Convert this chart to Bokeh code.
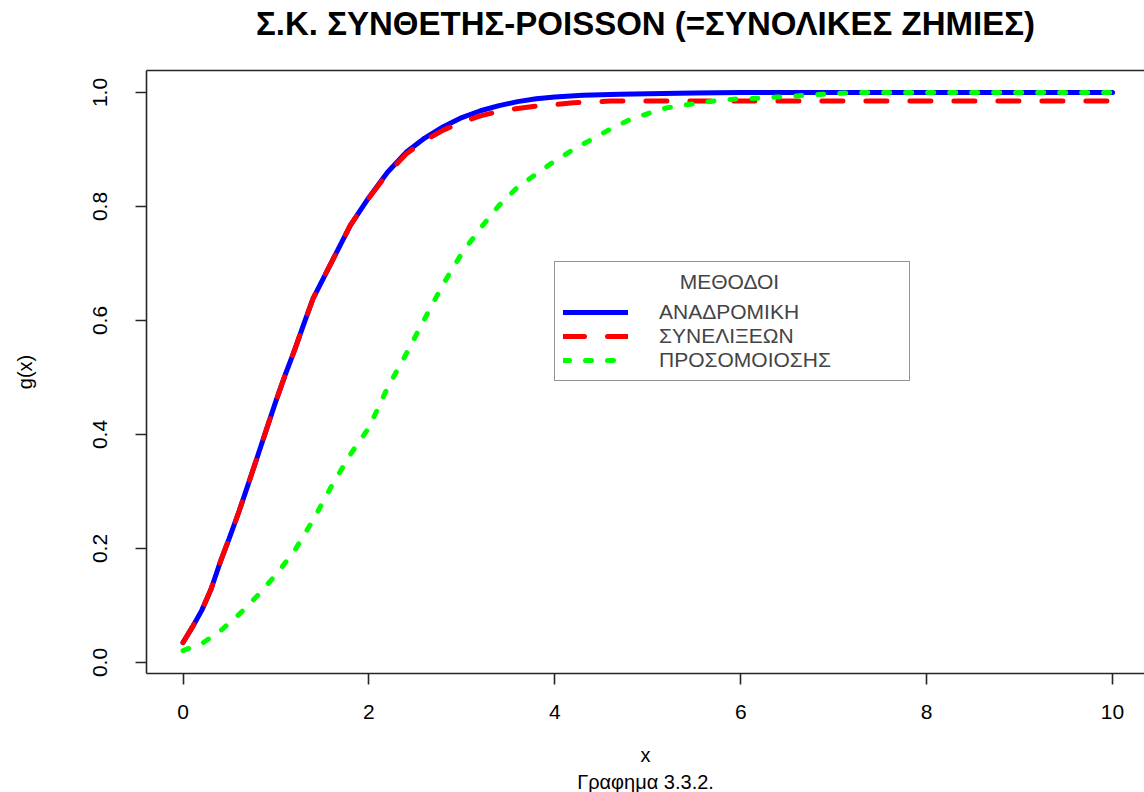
from bokeh.plotting import figure
from bokeh.models import Range1d, FixedTicker, LinearAxis, Legend, LegendItem, Title
from bokeh.embed import file_html
from bokeh.resources import INLINE

# ---------------- data ----------------
x_anadromiki = [0, 0.1, 0.2, 0.3, 0.4, 0.5, 0.6, 0.7, 0.8, 0.9, 1.0, 1.1, 1.2, 1.3, 1.4, 1.5,
                1.6, 1.8, 2.0, 2.2, 2.4, 2.6, 2.8, 3.0, 3.2, 3.4, 3.6, 3.8, 4.0, 4.3, 4.7,
                5.0, 5.5, 6.0, 7.0, 8.0, 9.0, 10.0]
g_anadromiki = [0.035, 0.062, 0.091, 0.128, 0.176, 0.219, 0.264, 0.312, 0.361, 0.410, 0.459,
                0.505, 0.548, 0.594, 0.639, 0.671, 0.703, 0.767, 0.816, 0.860, 0.895, 0.920,
                0.940, 0.956, 0.968, 0.977, 0.984, 0.989, 0.992, 0.995, 0.997, 0.998, 0.999,
                1.0, 1.0, 1.0, 1.0, 1.0]

x_syneliksewn = [0, 0.1, 0.2, 0.3, 0.4, 0.5, 0.6, 0.7, 0.8, 0.9, 1.0, 1.1, 1.2, 1.3, 1.4, 1.5,
                 1.6, 1.8, 2.0, 2.2, 2.4, 2.6, 2.8, 3.0, 3.2, 3.4, 3.6, 3.8, 4.0, 4.2, 4.4,
                 4.6, 5.0, 6.0, 7.0, 8.0, 9.0, 10.0]
g_syneliksewn = [0.035, 0.062, 0.091, 0.128, 0.176, 0.219, 0.264, 0.312, 0.361, 0.410, 0.459,
                 0.505, 0.548, 0.594, 0.639, 0.671, 0.703, 0.767, 0.815, 0.858, 0.892, 0.916,
                 0.934, 0.948, 0.959, 0.967, 0.972, 0.976, 0.979, 0.982, 0.983, 0.985, 0.985,
                 0.985, 0.985, 0.985, 0.985, 0.985]

x_prosomoiosis = [0, 0.2, 0.4, 0.6, 0.8, 1.0, 1.2, 1.4, 1.6, 1.8, 2.0, 2.2, 2.4, 2.6, 2.8, 3.0,
                  3.2, 3.4, 3.6, 3.8, 4.0, 4.2, 4.4, 4.6, 4.8, 5.0, 5.2, 5.4, 5.6, 5.8, 6.0,
                  6.2, 6.4, 6.6, 6.8, 7.0, 7.2, 8.0, 9.0, 10.0]
g_prosomoiosis = [0.021, 0.033, 0.055, 0.084, 0.117, 0.154, 0.196, 0.250, 0.310, 0.365, 0.412,
                  0.482, 0.541, 0.603, 0.664, 0.718, 0.762, 0.802, 0.834, 0.857, 0.880, 0.900,
                  0.918, 0.936, 0.952, 0.963, 0.973, 0.978, 0.983, 0.987, 0.989, 0.990, 0.992,
                  0.994, 0.996, 0.998, 1.0, 1.0, 1.0, 1.0]

series_names = ["ΑΝΑΔΡΟΜΙΚΗ", "ΣΥΝΕΛΙΞΕΩΝ", "ΠΡΟΣΟΜΟΙΟΣΗΣ"]
x_ticks = [0, 2, 4, 6, 8, 10]
y_ticks = [0.0, 0.2, 0.4, 0.6, 0.8, 1.0]
y_tick_labels = ["0.0", "0.2", "0.4", "0.6", "0.8", "1.0"]

title_text = "Σ.Κ. ΣΥΝΘΕΤΗΣ-POISSON (=ΣΥΝΟΛΙΚΕΣ ΖΗΜΙΕΣ)"
subtitle_text = "Γραφημα 3.3.2."
legend_title = "ΜΕΘΟΔΟΙ"

# ---------------- figure ----------------
FONT = "Liberation Sans"
AX = "#262626"
NBSP = "\u00a0"

p = figure(width=1144, height=792, output_backend="svg", toolbar_location=None,
           x_range=Range1d(-0.393, 10.344), y_range=Range1d(-0.0193, 1.0386),
           x_axis_type=None, y_axis_type=None,
           min_border_left=146, min_border_right=0, min_border_top=70, min_border_bottom=119)
p.outline_line_color = None
p.background_fill_color = "white"
p.border_fill_color = "white"

p.title = Title(text=title_text, align="center", text_font=FONT, text_font_size="33px",
                text_font_style="bold", text_color="black", standoff=4)

# bottom axis
xaxis = LinearAxis(ticker=FixedTicker(ticks=x_ticks), axis_label="x")
# left axis
yaxis = LinearAxis(ticker=FixedTicker(ticks=y_ticks), axis_label="g(x)")
yaxis.major_label_overrides = {t: lab for t, lab in zip(y_ticks, y_tick_labels)}
yaxis.major_label_orientation = "vertical"
for ax in (xaxis, yaxis):
    ax.axis_line_color = AX
    ax.axis_line_width = 1.6
    ax.major_tick_line_color = AX
    ax.major_tick_line_width = 1.6
    ax.major_tick_out = 11
    ax.major_tick_in = 0
    ax.minor_tick_line_color = None
    ax.major_label_text_font = FONT
    ax.major_label_text_font_size = "21px"
    ax.major_label_text_color = "black"
    ax.axis_label_text_font = FONT
    ax.axis_label_text_font_size = "20px"
    ax.axis_label_text_font_style = "normal"
    ax.axis_label_text_color = "black"
xaxis.major_label_standoff = 20
xaxis.axis_label_standoff = 22
yaxis.major_label_standoff = 28
yaxis.axis_label_standoff = 55
p.add_layout(xaxis, "below")
p.add_layout(yaxis, "left")

# top frame line (its empty label only keeps room between frame and title)
topaxis = LinearAxis(ticker=FixedTicker(ticks=[]), axis_line_color=AX, axis_line_width=1.6,
                     major_tick_line_color=None, minor_tick_line_color=None,
                     major_label_text_font_size="0px",
                     axis_label=NBSP, axis_label_text_font_size="10px",
                     axis_label_standoff=13)
p.add_layout(topaxis, "above")

p.add_layout(Title(text=subtitle_text, align="center", text_font=FONT, text_font_size="20px",
                   text_font_style="normal", text_color="black", standoff=0), "below")

# ---------------- lines ----------------
r1 = p.line(x_anadromiki, g_anadromiki, line_color="#0000FF", line_width=5,
            line_join="round", line_cap="round")
r2 = p.line(x_syneliksewn, g_syneliksewn, line_color="#FF0000", line_width=5,
            line_dash="21 23", line_join="round", line_cap="round")
r3 = p.line(x_prosomoiosis, g_prosomoiosis, line_color="#00FF00", line_width=5,
            line_dash="6 16", line_join="round", line_cap="round")

legend = Legend(items=[LegendItem(label=series_names[0], renderers=[r1]),
                       LegendItem(label=series_names[1], renderers=[r2]),
                       LegendItem(label=series_names[2], renderers=[r3])],
                location=(408, 292), title=NBSP * 20 + legend_title,
                title_text_font=FONT, title_text_font_size="21px", title_text_font_style="normal",
                title_standoff=6,
                label_text_font=FONT, label_text_font_size="21px",
                border_line_color=AX, border_line_width=1.6,
                background_fill_color="white", background_fill_alpha=1.0,
                padding=8, spacing=0, margin=0,
                glyph_width=65, glyph_height=18, label_height=18, label_standoff=31,
                label_width=242)
p.add_layout(legend, "center")

open("out.html", "w").write(file_html(p, INLINE))
